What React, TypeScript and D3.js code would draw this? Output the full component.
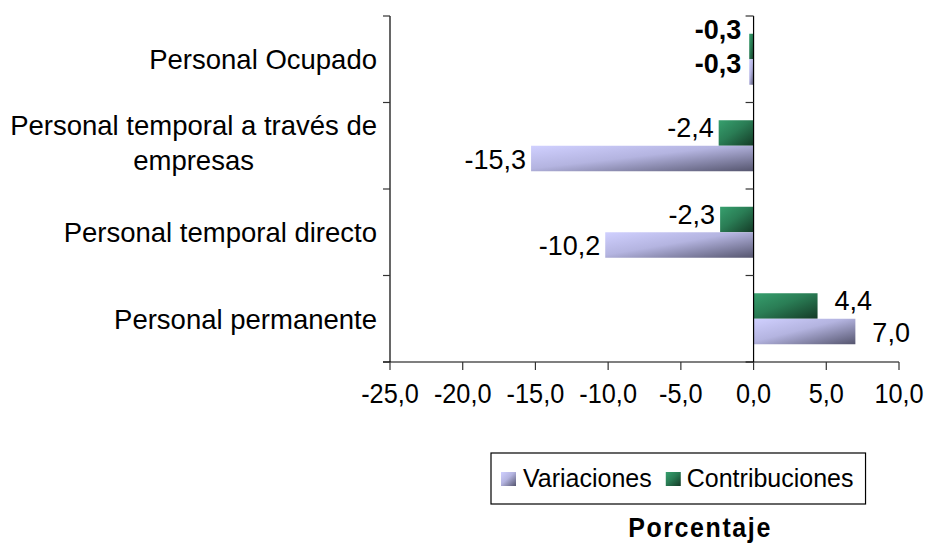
import React from "react";
import * as d3 from "d3";

// Data (Excel order: bottom to top)
const categories: string[] = [
  "Personal permanente",
  "Personal temporal directo",
  "Personal temporal a través de empresas",
  "Personal Ocupado",
];
const variaciones: number[] = [7.0, -10.2, -15.3, -0.3];
const contribuciones: number[] = [4.4, -2.3, -2.4, -0.3];
const xTicks: number[] = [-25, -20, -15, -10, -5, 0, 5, 10];
const seriesNames: string[] = ["Variaciones", "Contribuciones"];
const boldCategory = "Personal Ocupado";
const axisTitle = "Porcentaje";

const W = 926;
const H = 544;
const FONT = "'Liberation Sans', Arial, Helvetica, sans-serif";

const fmt = (v: number) => v.toFixed(1).replace(".", ",");

let canvasCtx: CanvasRenderingContext2D | null = null;
function measure(text: string, size: number, weight = "normal"): number {
  if (!canvasCtx) {
    const c = document.createElement("canvas");
    canvasCtx = c.getContext("2d");
  }
  if (!canvasCtx) return text.length * size * 0.5;
  canvasCtx.font = `${weight} ${size}px ${FONT}`;
  return canvasCtx.measureText(text).width;
}

function wrap(text: string, size: number, maxW: number): string[] {
  const words = text.split(" ");
  const lines: string[] = [];
  let cur = "";
  for (const w of words) {
    const t = cur ? cur + " " + w : w;
    if (cur && measure(t, size) > maxW) {
      lines.push(cur);
      cur = w;
    } else cur = t;
  }
  if (cur) lines.push(cur);
  return lines;
}

// text stretched vertically about its baseline
function T(props: {
  x: number;
  y: number;
  sy?: number;
  anchor?: string;
  size: number;
  weight?: string;
  ls?: number;
  children: React.ReactNode;
}) {
  const { x, y, sy = 1, anchor = "start", size, weight = "normal", ls = 0, children } = props;
  return (
    <text
      transform={`translate(${x},${y}) scale(1,${sy})`}
      textAnchor={anchor}
      fontSize={size}
      fontWeight={weight}
      letterSpacing={ls}
      fill="#000"
    >
      {children}
    </text>
  );
}

export default function App() {
  const plotLeft = 390;
  const plotRight = 899;
  const plotTop = 16;
  const plotBottom = 362;

  const x = d3.scaleLinear().domain([-25, 10]).range([plotLeft, plotRight]);
  const y = d3
    .scaleBand<string>()
    .domain([...categories].reverse())
    .range([plotTop, plotBottom]);
  const band = y.bandwidth();
  const barH = 25.5;

  const catSize = 27.5;
  const valSize = 27;
  const tickSize = 25.3;
  const legSize = 25;
  const catRight = 377;

  // legend layout
  const legTop = 453;
  const legBottom = 504;
  const legLeft = 491;
  const sq = 15;
  const w1 = measure(seriesNames[0], legSize);
  const w2 = measure(seriesNames[1], legSize);
  const sq1x = legLeft + 10;
  const t1x = sq1x + sq + 7;
  const sq2x = t1x + w1 + 14;
  const t2x = sq2x + sq + 6;
  const legRight = t2x + w2 + 12;

  return (
    <svg
      width={W}
      height={H}
      style={{ position: "absolute", left: 0, top: 0, background: "#fff" }}
      fontFamily={FONT}
    >
      <defs>
        <linearGradient id="gradVar" x1="0" y1="0" x2="1" y2="1">
          <stop offset="0" stopColor="#d0d0ff" />
          <stop offset="0.45" stopColor="#b4b4e0" />
          <stop offset="1" stopColor="#55556e" />
        </linearGradient>
        <linearGradient id="gradCon" x1="0" y1="0" x2="1" y2="1">
          <stop offset="0" stopColor="#37a06e" />
          <stop offset="0.45" stopColor="#2a7d55" />
          <stop offset="1" stopColor="#143a26" />
        </linearGradient>
      </defs>

      {/* bars */}
      {categories.map((c, i) => {
        const yc = (y(c) ?? 0) + band / 2;
        const vals = [contribuciones[i], variaciones[i]];
        const grads = ["gradCon", "gradVar"];
        return vals.map((v, k) => {
          const x0 = x(Math.min(0, v));
          const x1 = x(Math.max(0, v));
          const yTop = k === 0 ? yc - barH : yc;
          return (
            <rect
              key={c + k}
              x={x0}
              y={yTop}
              width={Math.max(1, x1 - x0)}
              height={barH}
              fill={`url(#${grads[k]})`}
            />
          );
        });
      })}

      {/* value labels */}
      {categories.map((c, i) => {
        const yc = (y(c) ?? 0) + band / 2;
        const bold = c === boldCategory;
        const vals = [contribuciones[i], variaciones[i]];
        return vals.map((v, k) => {
          const neg = v < 0;
          const xe = x(v);
          const lx = neg ? xe - (bold ? 8 : 5) : xe + 17;
          const barC = k === 0 ? yc - barH / 2 : yc + barH / 2;
          let dy = k === 0 ? 4 : 10;
          if (bold) dy = k === 0 ? -7.5 : 0.5;
          return (
            <T
              key={"l" + c + k}
              x={lx}
              y={barC + dy}
              anchor={neg ? "end" : "start"}
              size={valSize}
              sy={1.04}
              weight={bold ? "bold" : "normal"}
            >
              {fmt(v)}
            </T>
          );
        });
      })}

      {/* category axis lines */}
      <line x1={plotLeft} y1={plotTop} x2={plotLeft} y2={plotBottom} stroke="#000" strokeWidth={1.2} />
      <line x1={x(0)} y1={plotTop} x2={x(0)} y2={plotBottom} stroke="#000" strokeWidth={1.2} />
      {d3.range(categories.length + 1).map((j) => {
        const yy = plotTop + j * band;
        return (
          <g key={"ct" + j}>
            <line x1={plotLeft - 7} y1={yy} x2={plotLeft} y2={yy} stroke="#333" strokeWidth={1.2} />
            <line x1={x(0) - 8} y1={yy} x2={x(0)} y2={yy} stroke="#333" strokeWidth={1.2} />
          </g>
        );
      })}

      {/* x axis */}
      <line x1={plotLeft - 7} y1={plotBottom} x2={plotRight} y2={plotBottom} stroke="#000" strokeWidth={1.2} />
      {xTicks.map((t) => (
        <g key={"xt" + t}>
          <line x1={x(t)} y1={plotBottom} x2={x(t)} y2={plotBottom + 8} stroke="#333" strokeWidth={1.2} />
          <T x={x(t)} y={403} anchor="middle" size={tickSize} sy={1.1}>
            {fmt(t)}
          </T>
        </g>
      ))}

      {/* category labels */}
      {categories.map((c) => {
        const yc = (y(c) ?? 0) + band / 2;
        const lines = wrap(c, catSize, 385);
        if (lines.length === 1) {
          return (
            <T key={"c" + c} x={catRight} y={yc + 10} anchor="end" size={catSize}>
              {c}
            </T>
          );
        }
        const maxW = Math.max(...lines.map((l) => measure(l, catSize)));
        const cx = catRight - maxW / 2;
        const lh = 35;
        const start = yc + 10 - (lh * (lines.length - 1)) / 2 - 3;
        return (
          <g key={"c" + c}>
            {lines.map((l, li) => (
              <T key={li} x={cx} y={start + li * lh} anchor="middle" size={catSize}>
                {l}
              </T>
            ))}
          </g>
        );
      })}

      {/* legend */}
      <rect
        x={legLeft}
        y={legTop}
        width={legRight - legLeft}
        height={legBottom - legTop}
        fill="#fff"
        stroke="#000"
        strokeWidth={1.2}
      />
      <rect x={sq1x} y={472} width={sq} height={sq - 1} fill="url(#gradVar)" />
      <T x={t1x} y={487} size={legSize} sy={1.06}>
        {seriesNames[0]}
      </T>
      <rect x={sq2x} y={472} width={sq} height={sq - 1} fill="url(#gradCon)" />
      <T x={t2x} y={487} size={legSize} sy={1.06}>
        {seriesNames[1]}
      </T>

      {/* axis title */}
      <T x={700} y={537} anchor="middle" size={25} weight="bold" ls={1.6} sy={1.08}>
        {axisTitle}
      </T>
    </svg>
  );
}
